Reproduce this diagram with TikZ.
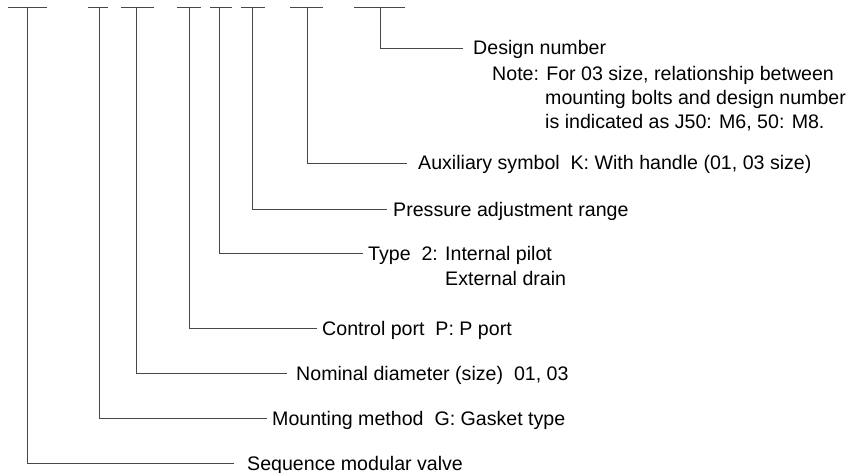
\documentclass[tikz,border=0pt]{standalone}
\usepackage{fontspec}
\setmainfont{Liberation Sans}
\begin{document}
\begin{tikzpicture}[x=1pt,y=-1pt,
  lead/.style={draw=black!72,line width=0.8pt},
  lbl/.style={anchor=base west,inner sep=0pt,font=\fontsize{19.6}{24}\selectfont,text=black}]
\useasboundingbox (0,0) rectangle (848,473);
% underlines under the code letters
\foreach \a/\b in {8/47,88/108,121/154,177/201,210/232,241/265,290/323,354/405}
  \draw[lead] (\a,7) -- (\b,7);
% top points of the leaders
\coordinate (t1) at (27,7);
\coordinate (t2) at (99,7);
\coordinate (t3) at (136,7);
\coordinate (t4) at (189,7);
\coordinate (t5) at (219,7);
\coordinate (t6) at (252,7);
\coordinate (t7) at (307,7);
\coordinate (t8) at (380,7);
% end points of the leaders
\coordinate (e1) at (234,463);
\coordinate (e2) at (267,418);
\coordinate (e3) at (287,373);
\coordinate (e4) at (317,328);
\coordinate (e5) at (363,253);
\coordinate (e6) at (387,209);
\coordinate (e7) at (407,163);
\coordinate (e8) at (463,48);
% labels
\node[lbl] (seq) at (247,470) {Sequence modular valve};
\node[lbl] (mnt) at (272,425) {Mounting method\ \ G: Gasket type};
\node[lbl] (nom) at (296,380) {Nominal diameter (size)\ \ 01, 03};
\node[lbl] (ctl) at (322,335) {Control port\ \ P: P port};
\node[lbl] (typ) at (368,260) {Type\ \ 2: Internal pilot};
\node[lbl] (typb) at (445,285) {External drain};
\node[lbl] (prs) at (393,216) {Pressure adjustment range};
\node[lbl] (aux) at (418,170) {Auxiliary symbol\ \ K: With handle (01, 03 size)};
\node[lbl] (dsg) at (473,55) {Design number};
\node[lbl] (nt1) at (492,81) {Note: For 03 size, relationship between};
\node[lbl] (nt2) at (545,105) {mounting bolts and design number};
\node[lbl] (nt3) at (545,129) {is indicated as J50: M6, 50: M8.};
% leaders
\draw[lead] (t1) |- (e1);
\draw[lead] (t2) |- (e2);
\draw[lead] (t3) |- (e3);
\draw[lead] (t4) |- (e4);
\draw[lead] (t5) |- (e5);
\draw[lead] (t6) |- (e6);
\draw[lead] (t7) |- (e7);
\draw[lead] (t8) |- (e8);
\end{tikzpicture}
\end{document}
